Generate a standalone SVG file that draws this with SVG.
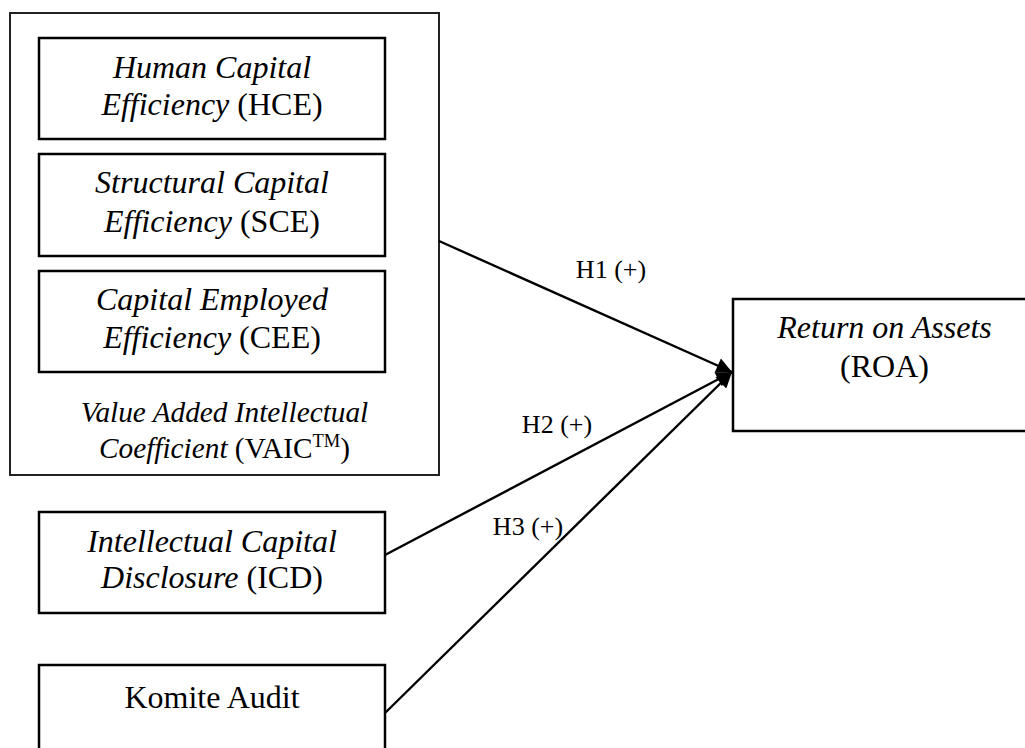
<svg xmlns="http://www.w3.org/2000/svg" width="1025" height="748" viewBox="0 0 1025 748">
<style>
.box{fill:#fff;stroke:#000;stroke-width:2.5}
.outer{fill:#fff;stroke:#222;stroke-width:2}
.t{font-family:"Liberation Serif","Times New Roman",serif;font-size:32px;fill:#000;text-anchor:middle}
.v{font-family:"Liberation Serif","Times New Roman",serif;font-size:29.3px;fill:#000;text-anchor:middle}
.lbl{font-family:"Liberation Serif","Times New Roman",serif;font-size:26px;fill:#000;text-anchor:middle}
.i{font-style:italic}
.conn{stroke:#000;stroke-width:2.4;fill:none;marker-end:url(#arr)}
</style>
<defs>
<marker id="arr" viewBox="0 0 10 10" refX="10" refY="5" markerWidth="7" markerHeight="6.5" markerUnits="strokeWidth" orient="auto">
<path d="M0,0 L10,5 L0,10 z" fill="#000"/>
</marker>
</defs>
<g id="vaic">
<rect class="outer" x="10" y="13" width="429" height="462"/>
<text class="v"><tspan x="224.5" y="422" class="i">Value Added Intellectual</tspan><tspan x="224.5" y="458"><tspan class="i">Coefficient</tspan> (VAIC<tspan font-size="18.5" dy="-11">TM</tspan><tspan dy="11">)</tspan></tspan></text>
</g>
<g id="hce">
<rect class="box" x="39" y="38" width="346" height="101"/>
<text class="t"><tspan x="212" y="78" class="i">Human Capital</tspan><tspan x="212" y="115"><tspan class="i">Efficiency</tspan> (HCE)</tspan></text>
</g>
<g id="sce">
<rect class="box" x="39" y="154" width="346" height="102"/>
<text class="t"><tspan x="212" y="193" class="i">Structural Capital</tspan><tspan x="212" y="232"><tspan class="i">Efficiency</tspan> (SCE)</tspan></text>
</g>
<g id="cee">
<rect class="box" x="39" y="271" width="346" height="101"/>
<text class="t"><tspan x="212" y="310" class="i">Capital Employed</tspan><tspan x="212" y="348"><tspan class="i">Efficiency</tspan> (CEE)</tspan></text>
</g>
<g id="icd">
<rect class="box" x="39" y="512" width="346" height="101"/>
<text class="t"><tspan x="212" y="552" class="i">Intellectual Capital</tspan><tspan x="212" y="588"><tspan class="i">Disclosure</tspan> (ICD)</tspan></text>
</g>
<g id="komite">
<rect class="box" x="39" y="665" width="346" height="101"/>
<text class="t" x="212" y="708">Komite Audit</text>
</g>
<g id="roa">
<rect class="box" x="733" y="299" width="303" height="132"/>
<text class="t"><tspan x="884.5" y="338" class="i">Return on Assets</tspan><tspan x="884.5" y="377">(ROA)</tspan></text>
</g>
<g id="connectors">
<line class="conn" x1="439" y1="241" x2="732" y2="372"/>
<line class="conn" x1="385" y1="555" x2="732" y2="372"/>
<line class="conn" x1="385" y1="713" x2="732" y2="372"/>
<text class="lbl" x="611" y="278">H1 (+)</text>
<text class="lbl" x="557" y="433">H2 (+)</text>
<text class="lbl" x="528" y="535">H3 (+)</text>
</g>
</svg>
